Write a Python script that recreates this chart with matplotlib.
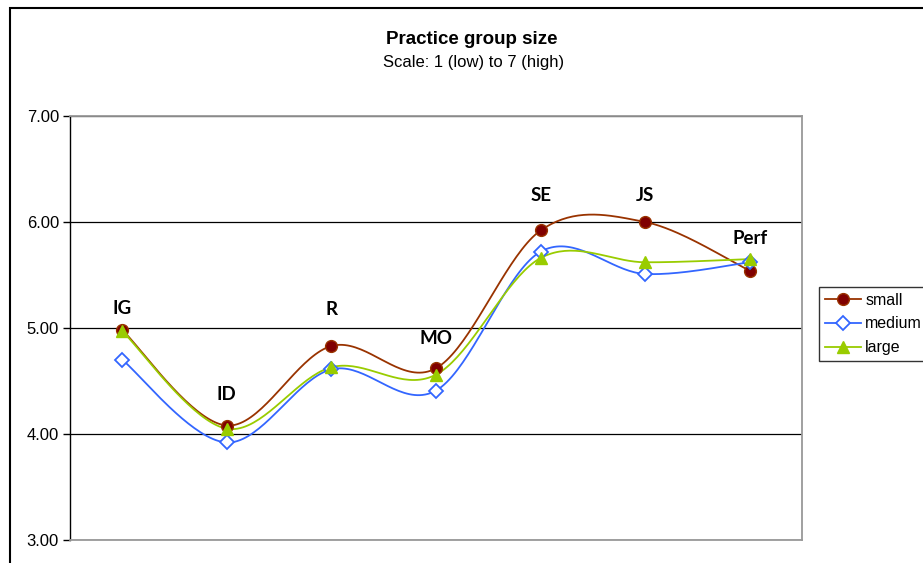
import numpy as np
import matplotlib
matplotlib.use("Agg")
import matplotlib.pyplot as plt
from matplotlib.patches import Rectangle
from matplotlib.lines import Line2D

# 分类与三组均值
categories = ["IG", "ID", "R", "MO", "SE", "JS", "Perf"]
small = [4.98, 4.08, 4.83, 4.62, 5.92, 6.00, 5.54]
medium = [4.70, 3.92, 4.61, 4.41, 5.72, 5.51, 5.62]
large = [4.97, 4.05, 4.63, 4.56, 5.66, 5.62, 5.65]
# 分类标签的纵向位置
label_y = [5.18, 4.37, 5.17, 4.90, 6.25, 6.25, 5.84]
y_ticks = [3.0, 4.0, 5.0, 6.0, 7.0]


def smooth_curve(xs, ys, n=40):
    # Excel 风格的平滑线 (Catmull-Rom 贝塞尔)
    pts = np.column_stack([xs, ys]).astype(float)
    ext = np.vstack([pts[0], pts, pts[-1]])
    out = []
    t = np.linspace(0, 1, n)[:, None]
    for i in range(len(pts) - 1):
        p0, p1, p2, p3 = ext[i], ext[i + 1], ext[i + 2], ext[i + 3]
        c1 = p1 + (p2 - p0) / 6
        c2 = p2 - (p3 - p1) / 6
        seg = ((1 - t) ** 3) * p1 + 3 * ((1 - t) ** 2) * t * c1 + 3 * (1 - t) * t ** 2 * c2 + t ** 3 * p2
        out.append(seg if i == 0 else seg[1:])
    seg = np.vstack(out)
    return seg[:, 0], seg[:, 1]


plt.rcParams['font.family'] = ['Liberation Sans', 'DejaVu Sans']

fig = plt.figure(figsize=(9.23, 5.63), dpi=100)
ax = fig.add_axes([70 / 923, 1 - 540 / 563, 732 / 923, 424 / 563])

x = np.arange(len(categories))
styles = [
    ("small", small, dict(color="#993300", marker="o", mfc="#800000", mec="#993300", ms=8.5)),
    ("medium", medium, dict(color="#3366FF", marker="D", mfc="white", mec="#3366FF", ms=7, mew=1.3)),
    ("large", large, dict(color="#99CC00", marker="^", mfc="#99CC00", mec="#99CC00", ms=9)),
]
handles = []
for name, vals, st in styles:
    sx, sy = smooth_curve(x, vals)
    ax.plot(sx, sy, color=st["color"], lw=1.3, zorder=3)
    ax.plot(x, vals, ls="none", marker=st["marker"], mfc=st["mfc"], mec=st["mec"],
            ms=st["ms"], mew=st.get("mew", 1.0), zorder=4)
    handles.append(Line2D([], [], color=st["color"], lw=1.3, marker=st["marker"], mfc=st["mfc"],
                          mec=st["mec"], ms=st["ms"], mew=st.get("mew", 1.0), label=name))

for xi, yi, lab in zip(x, label_y, categories):
    ax.text(xi, yi, lab, ha="center", va="center", fontsize=13.5, fontweight="bold",
            family=["Lato", "DejaVu Sans"], zorder=5)

ax.set_xlim(-0.5, len(categories) - 0.5)
ax.set_ylim(3, 7)
ax.set_yticks(y_ticks)
ax.set_yticklabels([f"{v:.2f}" for v in y_ticks], fontsize=12)
ax.set_xticks([])
ax.tick_params(axis="y", direction="out", length=5, width=1, pad=3)
ax.yaxis.grid(True, color="black", lw=0.9)
ax.set_axisbelow(True)
ax.spines["left"].set_color("black")
ax.spines["left"].set_linewidth(1.0)
for s in ["top", "right", "bottom"]:
    ax.spines[s].set_color("#999999")
    ax.spines[s].set_linewidth(1.3)

fig.text(472 / 923, 1 - 40 / 563, "Practice group size", ha="center", va="center",
         fontsize=13.5, fontweight="bold")
fig.text(474 / 923, 1 - 63 / 563, "Scale: 1 (low) to 7 (high)", ha="center", va="center",
         fontsize=12)

leg = fig.legend(handles=handles, loc="upper left", bbox_to_anchor=(819 / 923, 1 - 287 / 563),
                 frameon=True, fancybox=False, edgecolor="black", fontsize=11.5,
                 handlelength=2.3, labelspacing=0.55, borderpad=0.35, borderaxespad=0,
                 handletextpad=0.25)
leg.get_frame().set_linewidth(1.0)

# 外框
fig.patches.append(Rectangle((10 / 923, -0.5), 2, 1.5 - 8 / 563, transform=fig.transFigure,
                             fill=False, edgecolor="black", lw=1.5))

fig.savefig("out.png", dpi=100)
